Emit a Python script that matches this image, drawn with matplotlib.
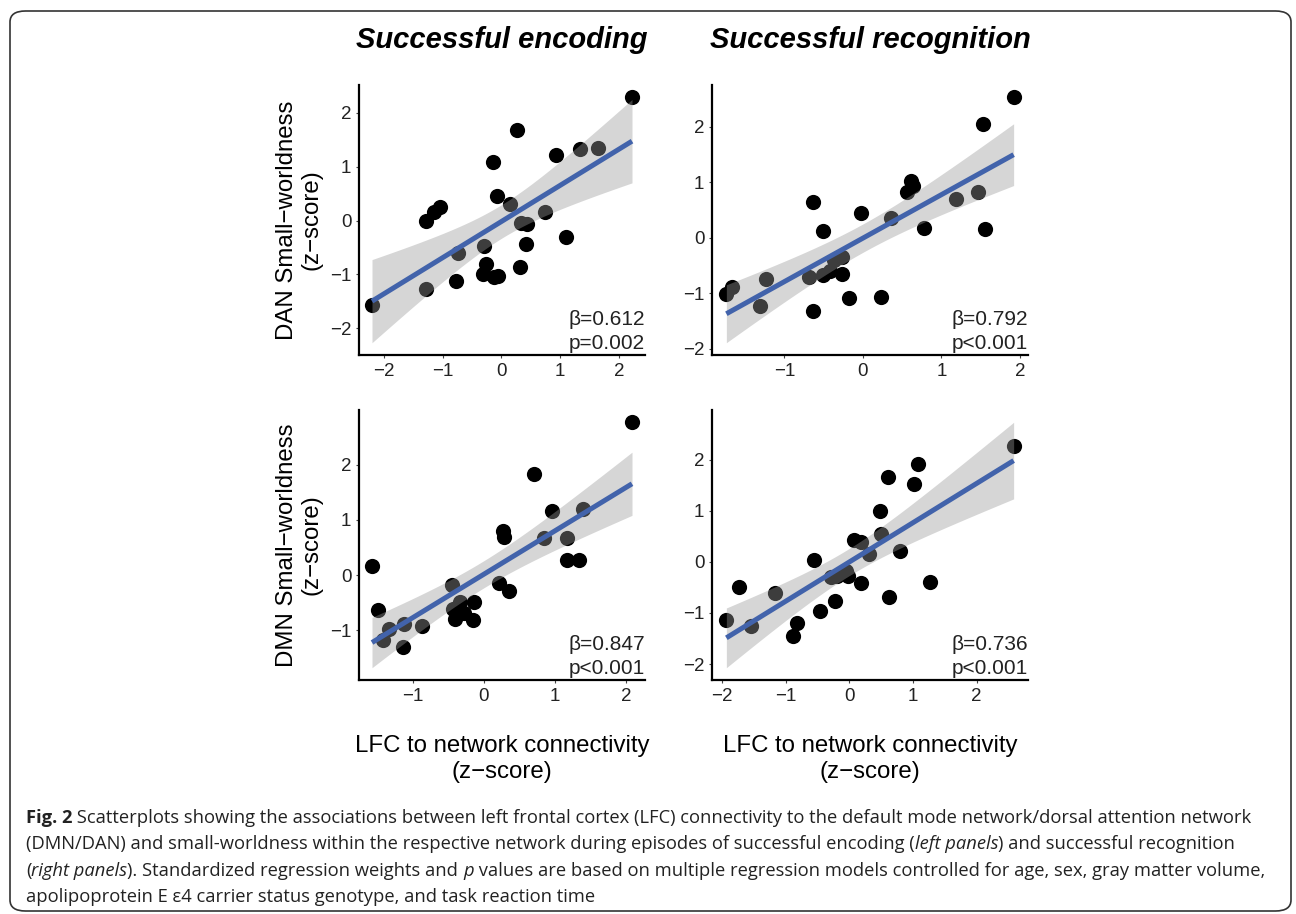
import numpy as np
import matplotlib
matplotlib.use('Agg')
import matplotlib.pyplot as plt
from matplotlib.patches import FancyBboxPatch

# --- data (z-scores) ---
enc_dan_x = [-2.20, -1.29, -1.28, -1.15, -1.04, -0.78, -0.74, -0.32, -0.29, -0.26,
             -0.12, -0.06, -0.14, -0.08, 0.15, 0.27, 0.32, 0.34, 0.44, 0.42,
             0.74, 0.93, 1.09, 1.33, 1.64, 2.22]
enc_dan_y = [-1.57, -1.28, 0.00, 0.16, 0.25, -1.12, -0.61, -0.99, -0.47, -0.81,
             -1.04, -1.03, 1.09, 0.45, 0.31, 1.68, -0.86, -0.04, -0.07, -0.44,
             0.15, 1.21, -0.30, 1.32, 1.34, 2.29]

rec_dan_x = [-1.74, -1.67, -1.31, -1.24, -0.69, -0.63, -0.63, -0.51, -0.51, -0.42,
             -0.37, -0.27, -0.27, -0.18, -0.02, 0.23, 0.36, 0.56, 0.61, 0.64,
             0.78, 1.19, 1.46, 1.53, 1.56, 1.92]
rec_dan_y = [-1.02, -0.88, -1.22, -0.74, -0.70, 0.65, -1.31, 0.13, -0.67, -0.59,
             -0.40, -0.34, -0.65, -1.08, 0.44, -1.06, 0.36, 0.82, 1.02, 0.94,
             0.17, 0.69, 0.83, 2.05, 0.16, 2.53]

enc_dmn_x = [-1.57, -1.48, -1.42, -1.33, -1.12, -1.13, -0.87, -0.45, -0.43, -0.41,
             -0.34, -0.28, -0.14, -0.15, 0.21, 0.36, 0.27, 0.29, 0.70, 0.85,
             0.95, 1.17, 1.17, 1.33, 1.39, 2.08]
enc_dmn_y = [0.17, -0.64, -1.18, -0.97, -0.89, -1.31, -0.92, -0.18, -0.61, -0.80,
             -0.49, -0.68, -0.48, -0.81, -0.14, -0.28, 0.80, 0.70, 1.83, 0.68,
             1.16, 0.67, 0.28, 0.27, 1.19, 2.77]

rec_dmn_x = [-1.93, -1.73, -1.54, -1.16, -0.89, -0.82, -0.55, -0.46, -0.23, -0.28,
             -0.20, -0.05, -0.02, 0.07, 0.19, 0.18, 0.31, 0.48, 0.49, 0.60,
             0.62, 0.79, 1.01, 1.08, 1.26, 2.58]
rec_dmn_y = [-1.14, -0.49, -1.26, -0.60, -1.45, -1.19, 0.03, -0.96, -0.77, -0.29,
             -0.27, -0.17, -0.27, 0.44, 0.40, -0.41, 0.16, 0.99, 0.55, 1.66,
             -0.68, 0.22, 1.52, 1.92, -0.39, 2.28]

stats_text = ['\u03b2=0.612\np=0.002', '\u03b2=0.792\np<0.001',
              '\u03b2=0.847\np<0.001', '\u03b2=0.736\np<0.001']
col_titles = ['Successful encoding', 'Successful recognition']
row_labels = ['DAN Small\u2212worldness\n(z\u2212score)',
              'DMN Small\u2212worldness\n(z\u2212score)']
x_label = 'LFC to network connectivity\n(z\u2212score)'

T_975_DF24 = 2.064  # t quantile for the 95% band, n = 26

W, H = 1296, 914
FONT = 'Liberation Sans'


def fx(px):
    return px / W


def fy(py):
    return 1 - py / H


def draw_panel(ax, x, y, note):
    x = np.asarray(x)
    y = np.asarray(y)
    n = len(x)
    b, a = np.polyfit(x, y, 1)
    resid = y - (a + b * x)
    s = np.sqrt(np.sum(resid ** 2) / (n - 2))
    sxx = np.sum((x - x.mean()) ** 2)
    grid = np.linspace(x.min(), x.max(), 80)
    fit = a + b * grid
    se = s * np.sqrt(1 / n + (grid - x.mean()) ** 2 / sxx)

    ax.scatter(x, y, s=120, color='black', linewidths=0, zorder=2)
    ax.fill_between(grid, fit - T_975_DF24 * se, fit + T_975_DF24 * se,
                    color='0.6', alpha=0.4, linewidth=0, zorder=3)
    ax.plot(grid, fit, color='#4263AB', lw=3.6, solid_capstyle='butt', zorder=4)
    ax.margins(0.05)

    for side in ('top', 'right'):
        ax.spines[side].set_visible(False)
    for side in ('left', 'bottom'):
        ax.spines[side].set_linewidth(1.6)
        ax.spines[side].set_color('black')
    ax.tick_params(length=2.5, width=0.8, color='#444444', labelsize=13.5,
                   labelcolor='#222222', pad=3)
    for lab in ax.get_xticklabels() + ax.get_yticklabels():
        lab.set_fontfamily(FONT)
    ax.xaxis.set_major_locator(matplotlib.ticker.MultipleLocator(1))
    ax.yaxis.set_major_locator(matplotlib.ticker.MultipleLocator(1))
    ax.text(1.0, 0.022, note, transform=ax.transAxes, ha='right', va='baseline',
            fontsize=15, family=FONT, color='#222222', linespacing=1.35, zorder=5)


def caption_line(fig, renderer, x, y, runs, size):
    for txt, weight, style in runs:
        t = fig.text(x, y, txt, fontsize=size, family='Open Sans', weight=weight,
                     style=style, color='#222222', va='baseline', ha='left')
        x += t.get_window_extent(renderer).width / W


def main():
    fig = plt.figure(figsize=(W / 100, H / 100), dpi=100)

    boxes = [(359, 645, 85, 355), (712, 1028, 85, 355),
             (359, 645, 410, 680), (712, 1028, 410, 680)]
    data = [(enc_dan_x, enc_dan_y), (rec_dan_x, rec_dan_y),
            (enc_dmn_x, enc_dmn_y), (rec_dmn_x, rec_dmn_y)]
    axes = []
    for (l, r, t, b), (x, y), note in zip(boxes, data, stats_text):
        ax = fig.add_axes([fx(l), fy(b), fx(r - l), (b - t) / H])
        draw_panel(ax, x, y, note)
        axes.append(ax)

    for ax, title in zip(axes[:2], col_titles):
        pos = ax.get_position()
        fig.text(pos.x0 + pos.width / 2, fy(40), title, ha='center', va='center',
                 fontsize=21, family=FONT, weight='bold', style='italic')

    for ax, lab in zip(axes[0::2], row_labels):
        pos = ax.get_position()
        fig.text(fx(299), pos.y0 + pos.height / 2, lab, rotation=90, ha='center',
                 va='center', fontsize=17.3, family=FONT, linespacing=1.15)

    for ax in axes[2:]:
        pos = ax.get_position()
        fig.text(pos.x0 + pos.width / 2, fy(759), x_label, ha='center', va='center',
                 fontsize=17.3, family=FONT, linespacing=1.2)

    border = FancyBboxPatch((fx(10), fy(911)), fx(1281), (911 - 11) / H,
                            boxstyle='round,pad=0,rounding_size=0.012',
                            transform=fig.transFigure, fill=False,
                            edgecolor='#333333', linewidth=1.2)
    fig.patches.append(border)

    renderer = fig.canvas.get_renderer()
    cap_size = 13.25
    lines = [
        [('Fig. 2', 'bold', 'normal'),
         (' Scatterplots showing the associations between left frontal cortex (LFC) '
          'connectivity to the default mode network/dorsal attention network',
          'normal', 'normal')],
        [('(DMN/DAN) and small-worldness within the respective network during episodes '
          'of successful encoding (', 'normal', 'normal'),
         ('left panels', 'normal', 'italic'),
         (') and successful recognition', 'normal', 'normal')],
        [('(', 'normal', 'normal'), ('right panels', 'normal', 'italic'),
         ('). Standardized regression weights and ', 'normal', 'normal'),
         ('p', 'normal', 'italic'),
         (' values are based on multiple regression models controlled for age, sex, '
          'gray matter volume,', 'normal', 'normal')],
        [('apolipoprotein E \u03b54 carrier status genotype, and task reaction time',
          'normal', 'normal')],
    ]
    for i, runs in enumerate(lines):
        caption_line(fig, renderer, fx(26), fy(823 + 26.3 * i), runs, cap_size)

    fig.savefig('out.png', dpi=100)


if __name__ == '__main__':
    main()
